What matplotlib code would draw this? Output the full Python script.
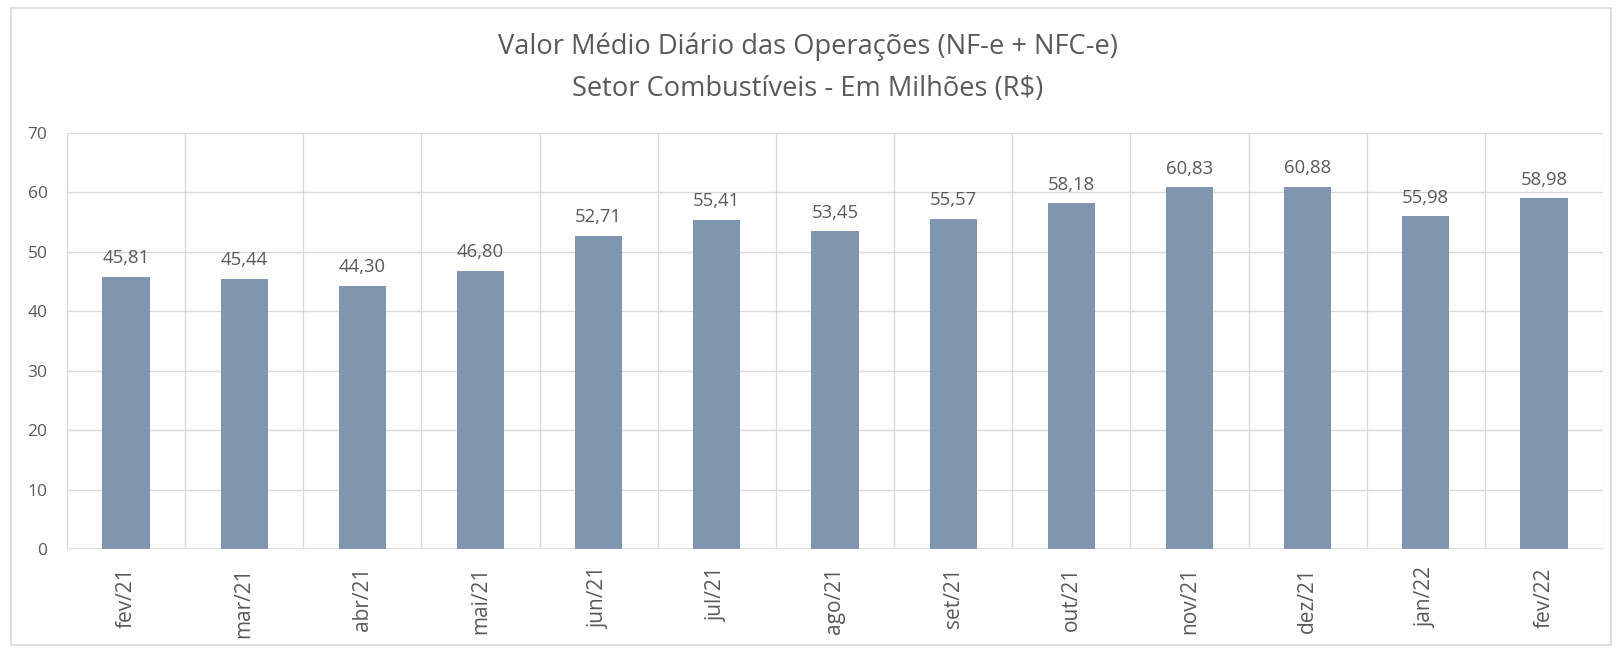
import matplotlib
matplotlib.use("Agg")
import matplotlib.pyplot as plt
from matplotlib.patches import Rectangle
import numpy as np

categories = ["fev/21", "mar/21", "abr/21", "mai/21", "jun/21", "jul/21", "ago/21",
              "set/21", "out/21", "nov/21", "dez/21", "jan/22", "fev/22"]
values = [45.81, 45.44, 44.30, 46.80, 52.71, 55.41, 53.45, 55.57, 58.18, 60.83, 60.88, 55.98, 58.98]
yticks = [0, 10, 20, 30, 40, 50, 60, 70]
title = "Valor Médio Diário das Operações (NF-e + NFC-e)\nSetor Combustíveis - Em Milhões (R$)"

plt.rcParams['font.family'] = ['Open Sans', 'DejaVu Sans']
txt = "#595959"
grid = "#D9D9D9"

fig = plt.figure(figsize=(16.16, 6.54), dpi=100)
fig.patches.append(Rectangle((11/1616, 1 - 645/654), (1611 - 11)/1616, (645 - 8)/654,
                             transform=fig.transFigure, fill=False, edgecolor=grid, linewidth=1.2))

ax = fig.add_axes([67/1616, 1 - 549/654, (1603 - 67)/1616, (549 - 133)/654])
x = np.arange(len(categories))
bars = ax.bar(x, values, width=0.40, color="#7F95B0", zorder=3)
for xi, v in zip(x, values):
    ax.annotate(f"{v:.2f}".replace(".", ","), (xi, v), xytext=(0, 7), textcoords="offset points",
                ha="center", va="bottom", fontsize=13.3, color=txt)

ax.set_xlim(-0.5, len(categories) - 0.5)
ax.set_ylim(0, 70)
ax.set_yticks(yticks)
ax.set_yticklabels([str(t) for t in yticks], fontsize=12.5, color=txt)
ax.set_xticks(x)
ax.set_xticklabels(categories, rotation=90, fontsize=15, color=txt)
ax.set_xticks(np.arange(-0.5, len(categories)), minor=True)
ax.tick_params(axis="both", which="both", length=0)
ax.tick_params(axis="x", pad=13)
ax.tick_params(axis="y", pad=14)
ax.grid(axis="y", which="major", color=grid, linewidth=1, zorder=0)
ax.grid(axis="x", which="minor", color=grid, linewidth=1, zorder=0)
ax.grid(axis="x", which="major", visible=False)
for s in ax.spines.values():
    s.set_visible(False)
ax.axhline(0, color=grid, linewidth=1.2, zorder=2)

fig.text(0.5, 1 - 68/654, title, ha="center", va="center", fontsize=19.6, color=txt, linespacing=1.66)

fig.savefig("out.png", dpi=100)
